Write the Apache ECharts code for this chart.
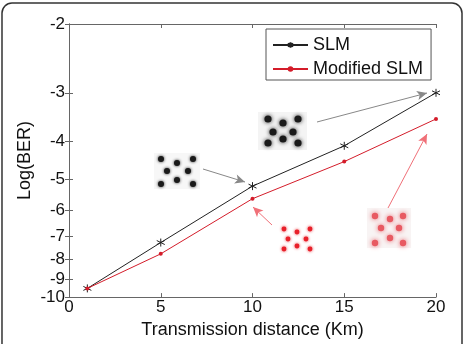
<!DOCTYPE html>
<html>
<head>
<meta charset="utf-8">
<script src="https://cdn.jsdelivr.net/npm/echarts@6/dist/echarts.min.js"></script>
<style>
  html, body { margin: 0; padding: 0; background: #fff; }
  #chart { width: 465px; height: 344px; }
</style>
</head>
<body>
<div id="chart"></div>
<script>
// data
const xKm = [1, 5, 10, 15, 20];
const slmLogBer = [-9.5, -7.25, -5.2, -4.1, -3.0];
const modifiedLogBer = [-9.5, -7.75, -5.6, -4.5, -3.5];
const yTickValues = [-2, -3, -4, -5, -6, -7, -8, -9, -10];
const seriesNames = ['SLM', 'Modified SLM'];

// y axis is log-spaced in |log(BER)|, drawn inverted
const toAxis = v => -v;
const yTicks = yTickValues.map(toAxis);

const FONT = 'Liberation Sans, Arial, sans-serif';
const AXIS_GRAY = '#666';
const BLACK = '#222';
const RED = '#d41c2a';

// asterisk marker like matlab '*'
const STAR = 'path://M0,-5L0,5M-4.33,-2.5L4.33,2.5M-4.33,2.5L4.33,-2.5';

const chart = echarts.init(document.getElementById('chart'));

const yAxisBase = {
  type: 'log',
  logBase: 10,
  min: 2,
  max: 10,
  inverse: true,
  axisLine: { show: true, lineStyle: { color: AXIS_GRAY, width: 1 } },
  axisTick: { show: true, inside: true, length: 4, customValues: yTicks, lineStyle: { color: AXIS_GRAY } },
  minorTick: { show: false },
  splitLine: { show: false }
};

// constellation insets (decoration)
const dots = (pts, r, color, blur) => pts.map(p => ({
  type: 'circle',
  shape: { cx: p[0], cy: p[1], r: r },
  style: { fill: color, shadowBlur: blur, shadowColor: color },
  silent: true
}));

const graphics = [
  { type: 'rect', shape: { x: 2, y: 3, width: 460, height: 420, r: 10 },
    style: { fill: 'none', stroke: '#333', lineWidth: 1.5 }, silent: true, z: 100 },
  { type: 'rect', shape: { x: 258, y: 112, width: 49, height: 38 },
    style: { fill: '#f4f4f4' }, silent: true },
  { type: 'rect', shape: { x: 154, y: 153, width: 46, height: 36 },
    style: { fill: '#f7f7f7' }, silent: true },
  { type: 'rect', shape: { x: 367, y: 208, width: 44, height: 40 },
    style: { fill: '#f8f4f4' }, silent: true },
  ...dots([[268, 119], [283, 123], [298, 119], [273, 132], [293, 132], [268, 143], [283, 139], [298, 143]], 3.6, '#1a1a1a', 4),
  ...dots([[161, 159], [177, 163], [193, 159], [167, 171], [188, 171], [161, 184], [177, 180], [193, 184]], 3, '#1a1a1a', 3),
  ...dots([[284, 229], [297, 232], [310, 229], [288, 239], [306, 239], [284, 249], [297, 246], [310, 249]], 2.4, '#e8202a', 3),
  ...dots([[375, 216], [390, 219], [403, 216], [381, 228], [399, 228], [375, 243], [390, 238], [403, 243]], 3.2, '#e85a62', 5)
];

const arrow = (from, to, color) => [
  { x: from[0], y: from[1], symbol: 'none', lineStyle: { color: color, width: 1 } },
  { x: to[0], y: to[1], symbol: 'arrow' }
];

chart.setOption({
  animation: false,
  backgroundColor: '#fff',
  textStyle: { fontFamily: FONT },
  grid: { left: 69, right: 29, top: 24, bottom: 41 },
  legend: {
    data: seriesNames,
    orient: 'vertical',
    left: 266,
    top: 29,
    padding: [7, 8, 2, 6],
    itemGap: 6,
    itemWidth: 35,
    itemHeight: 7,
    backgroundColor: '#fff',
    borderColor: '#555',
    borderWidth: 1,
    borderRadius: 0,
    textStyle: { fontFamily: FONT, fontSize: 18, color: '#111' }
  },
  xAxis: [
    {
      type: 'value',
      min: 0,
      max: 20,
      interval: 5,
      position: 'bottom',
      name: 'Transmission distance (Km)',
      nameLocation: 'middle',
      nameGap: 14,
      nameTextStyle: { fontFamily: FONT, fontSize: 18, color: '#111' },
      axisLine: { show: true, onZero: false, lineStyle: { color: AXIS_GRAY, width: 1 } },
      axisTick: { show: true, inside: true, length: 4, lineStyle: { color: AXIS_GRAY } },
      axisLabel: { margin: 2, fontFamily: FONT, fontSize: 17, color: '#111' },
      splitLine: { show: false }
    },
    {
      type: 'value',
      min: 0,
      max: 20,
      interval: 5,
      position: 'top',
      axisLine: { show: true, onZero: false, lineStyle: { color: AXIS_GRAY, width: 1 } },
      axisTick: { show: true, inside: true, length: 4, lineStyle: { color: AXIS_GRAY } },
      axisLabel: { show: false },
      splitLine: { show: false }
    }
  ],
  yAxis: [
    Object.assign({}, yAxisBase, {
      position: 'left',
      name: 'Log(BER)',
      nameLocation: 'middle',
      nameGap: 35,
      nameMoveOverlap: false,
      nameTextStyle: { fontFamily: FONT, fontSize: 18, color: '#111' },
      axisLabel: {
        margin: 4,
        fontFamily: FONT,
        fontSize: 17,
        color: '#111',
        customValues: yTicks,
        formatter: v => String(-Math.round(v))
      }
    }),
    Object.assign({}, yAxisBase, {
      position: 'right',
      axisLabel: { show: false, customValues: yTicks }
    })
  ],
  series: [
    {
      name: seriesNames[0],
      type: 'line',
      data: xKm.map((x, i) => [x, toAxis(slmLogBer[i])]),
      symbol: STAR,
      symbolSize: 8,
      lineStyle: { color: BLACK, width: 1 },
      itemStyle: { color: BLACK, borderColor: BLACK, borderWidth: 1 },
      z: 3,
      markLine: {
        silent: true,
        animation: false,
        label: { show: false },
        symbolSize: [7, 10],
        lineStyle: { color: '#888', type: 'solid', width: 1 },
        itemStyle: { color: '#666' },
        data: [
          arrow([317, 122], [427, 93], '#888'),
          arrow([203, 169], [245, 182], '#888')
        ]
      }
    },
    {
      name: seriesNames[1],
      type: 'line',
      data: xKm.map((x, i) => [x, toAxis(modifiedLogBer[i])]),
      symbol: 'circle',
      symbolSize: 4,
      lineStyle: { color: RED, width: 1 },
      itemStyle: { color: RED },
      z: 4,
      markLine: {
        silent: true,
        animation: false,
        label: { show: false },
        symbolSize: [7, 10],
        lineStyle: { color: '#f07078', type: 'solid', width: 1 },
        itemStyle: { color: '#f0202a' },
        data: [
          arrow([272, 225], [253, 207], '#f07078'),
          arrow([388, 208], [427, 134], '#f07078')
        ]
      }
    }
  ],
  graphic: graphics
});
</script>
</body>
</html>
